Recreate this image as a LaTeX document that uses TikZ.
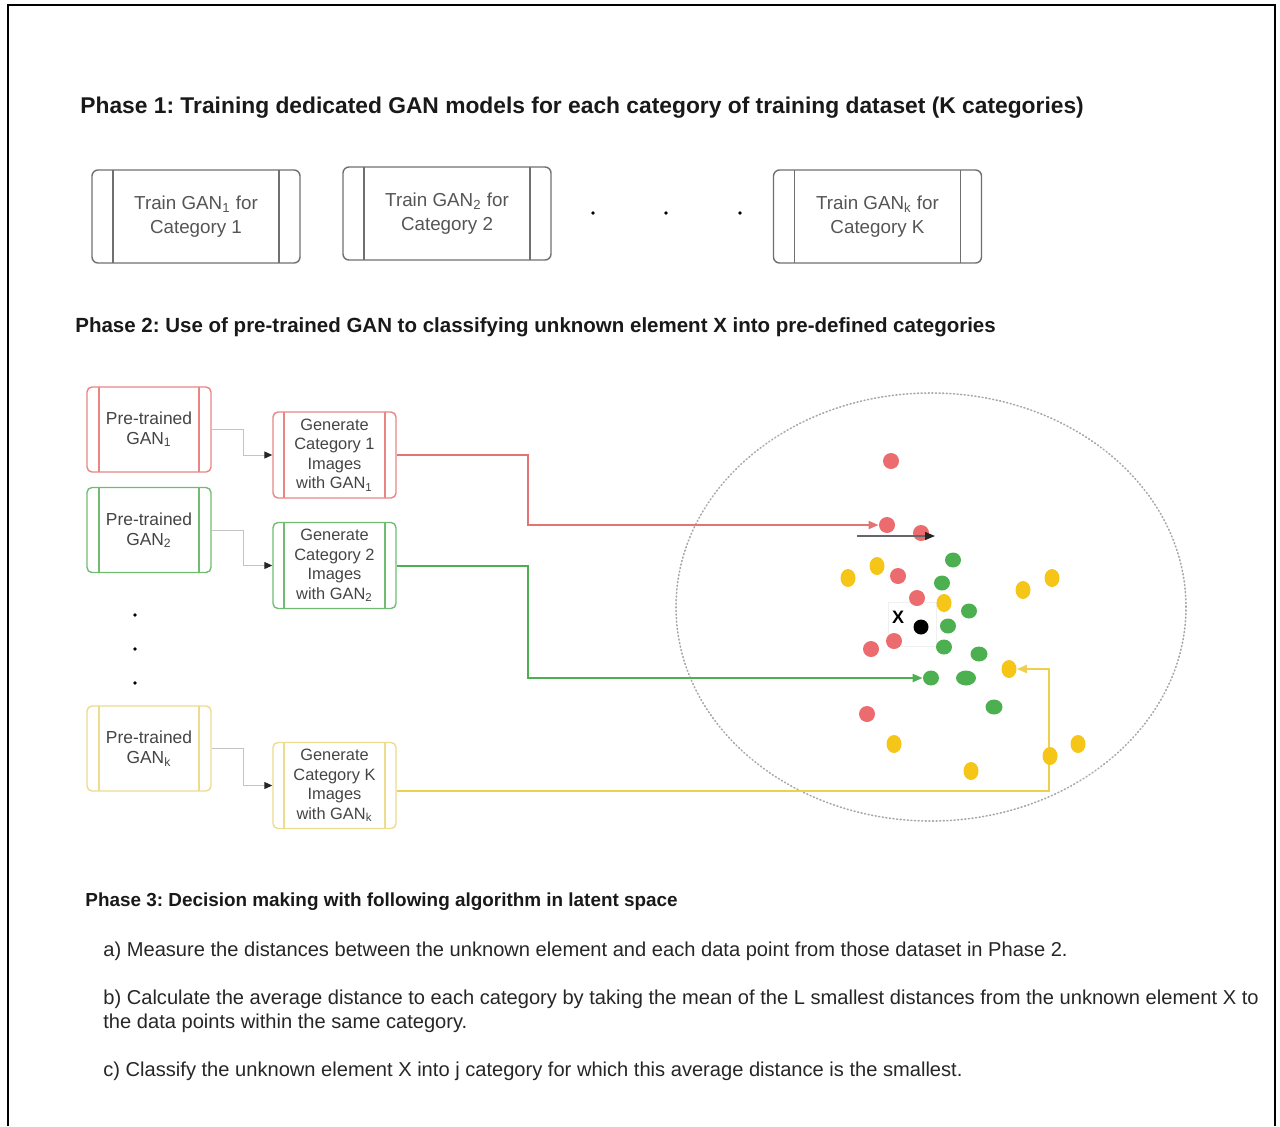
\documentclass[tikz,border=0pt]{standalone}
\usepackage{fontspec}
\setmainfont{Liberation Sans}
\usetikzlibrary{arrows.meta,shapes.geometric,calc}
\frenchspacing
\definecolor{boxgray}{HTML}{707070}
\definecolor{txtgray}{HTML}{555555}
\definecolor{txtdark}{HTML}{444444}
\definecolor{redb}{HTML}{E88585}
\definecolor{greenb}{HTML}{70BD72}
\definecolor{yellowb}{HTML}{EDDC8E}
\definecolor{redl}{HTML}{E57373}
\definecolor{greenl}{HTML}{4CAF50}
\definecolor{yellowl}{HTML}{F0CF4E}
\definecolor{redd}{HTML}{EC6B6E}
\definecolor{greend}{HTML}{4CB050}
\definecolor{yellowd}{HTML}{F5C518}
\definecolor{conn}{HTML}{C4C4C4}
\definecolor{ringgray}{HTML}{A8A8A8}
\begin{document}
\begin{tikzpicture}[x=0.5pt,y=-0.5pt,
  inner lines/.style 2 args={path picture={
    \draw[#1,line width=0.7pt] ([xshift=#2]path picture bounding box.north west) -- ([xshift=#2]path picture bounding box.south west);
    \draw[#1,line width=0.7pt] ([xshift=-#2]path picture bounding box.north east) -- ([xshift=-#2]path picture bounding box.south east);}},
  bigbox/.style={draw=boxgray, rounded corners=3pt, line width=0.7pt, minimum width=104pt, minimum height=46.5pt, align=center, inner sep=0pt, font=\fontsize{9.4}{12}\selectfont, text=txtgray, inner lines={boxgray}{10.5pt}},
  prebox/.style={draw=#1, rounded corners=2.5pt, line width=0.7pt, minimum width=62pt, minimum height=42.5pt, align=center, inner sep=0pt, font=\fontsize{8.7}{10}\selectfont, text=txtdark, inner lines={#1}{6pt}},
  genbox/.style={draw=#1, rounded corners=2.5pt, line width=0.7pt, minimum width=61.5pt, minimum height=43pt, align=center, inner sep=0pt, font=\fontsize{8.2}{9.75}\selectfont, text=txtdark, inner lines={#1}{5.5pt}},
  title/.style={anchor=base west, inner sep=0pt, text=black!90},
  item/.style={anchor=base west, inner sep=0pt, font=\fontsize{10.05}{12}\selectfont, text=black!85},
  smalldot/.style={circle, fill=black, inner sep=0pt, minimum size=1.8pt},
  rdot/.style={circle, fill=redd, inner sep=0pt, minimum size=8pt},
  ydot/.style={ellipse, fill=yellowd, inner sep=0pt, minimum width=7.5pt, minimum height=9pt},
  gdot/.style={ellipse, fill=greend, inner sep=0pt, minimum width=8pt, minimum height=7.5pt},
  feed/.style={draw=conn, line width=0.5pt, -{Triangle[length=4pt,width=3.5pt,fill=black!85,color=black!85]}},
  link/.style={color=#1, line width=1pt, -{Triangle[length=5pt,width=4pt]}}
]
\useasboundingbox (0,0) rectangle (1280,1126);
% outer frame
\draw[line width=1pt] (8,1126) -- (8,5) -- (1275,5) -- (1275,1126);

% Phase 1
\node[title, font=\bfseries\fontsize{11.4}{13}\selectfont] (t1) at (80,113) {Phase 1: Training dedicated GAN models for each category of training dataset (K categories)};
\node[bigbox] (tr1) at (196,216.5) {Train GAN\textsubscript{1} for\\Category 1};
\node[bigbox] (tr2) at (447,213.5) {Train GAN\textsubscript{2} for\\Category 2};
\node[bigbox] (trk) at (877.5,216.5) {Train GAN\textsubscript{k} for\\Category K};
\node[smalldot] (hd1) at (593,213) {};
\node[smalldot] (hd2) at (666,213) {};
\node[smalldot] (hd3) at (740,213) {};

% Phase 2
\node[title, font=\bfseries\fontsize{10.25}{12}\selectfont] (t2) at (75,332) {Phase 2: Use of pre-trained GAN to classifying unknown element X into pre-defined categories};
\node[prebox=redb] (pre1) at (149,429.5) {Pre-trained\\GAN\textsubscript{1}};
\node[prebox=greenb] (pre2) at (149,530) {Pre-trained\\GAN\textsubscript{2}};
\node[prebox=yellowb] (prek) at (149,748.5) {Pre-trained\\GAN\textsubscript{k}};
\node[smalldot] (vd1) at (135,615) {};
\node[smalldot] (vd2) at (135,649) {};
\node[smalldot] (vd3) at (135,683) {};
\node[genbox=redb] (gen1) at (334.5,455) {Generate\\Category 1\\Images\\with GAN\textsubscript{1}};
\node[genbox=greenb] (gen2) at (334.5,565.5) {Generate\\Category 2\\Images\\with GAN\textsubscript{2}};
\node[genbox=yellowb] (genk) at (334.5,785.5) {Generate\\Category K\\Images\\with GAN\textsubscript{k}};

\draw[feed] (pre1.east) -- ++(32,0) |- (gen1.west);
\draw[feed] (pre2.east) -- ++(32,0) |- (gen2.west);
\draw[feed] (prek.east) -- ++(32,0) |- (genk.west);

% latent space
\draw[ringgray, line width=0.8pt, dash pattern=on 0.5pt off 1.3pt, line cap=round] (931,607) ellipse [x radius=127.5pt, y radius=107pt];
\draw[black!6, line width=0.4pt] (888,602) rectangle (936,646);

\node[rdot] (rd1) at (891,461) {};
\node[rdot] (rd2) at (887,525) {};
\node[rdot] (rd3) at (921,533) {};
\node[rdot] (rd4) at (898,576) {};
\node[rdot] (rd5) at (917,598) {};
\node[rdot] (rd6) at (894,641) {};
\node[rdot] (rd7) at (871,649) {};
\node[rdot] (rd8) at (867,714) {};

\node[ydot] (yd1) at (848,578) {};
\node[ydot] (yd2) at (877,566) {};
\node[ydot] (yd3) at (944,603) {};
\node[ydot] (yd4) at (1023,590) {};
\node[ydot] (yd5) at (1052,578) {};
\node[ydot] (yd6) at (1009,669) {};
\node[ydot] (yd7) at (894,744) {};
\node[ydot] (yd8) at (971,771) {};
\node[ydot] (yd10) at (1078,744) {};

\node[gdot] (gd1) at (953,560) {};
\node[gdot] (gd2) at (942,583) {};
\node[gdot] (gd3) at (969,611) {};
\node[gdot] (gd4) at (948,626) {};
\node[gdot] (gd5) at (944,647) {};
\node[gdot, minimum width=8.5pt] (gd6) at (979,654) {};
\node[gdot] (gd7) at (931,678) {};
\node[gdot, minimum width=10pt] (gd8) at (966,678) {};
\node[gdot, minimum width=8.5pt] (gd9) at (994,707) {};

\node[circle, fill=black, inner sep=0pt, minimum size=7.5pt] (xp) at (921,627) {};
\node[inner sep=0pt, font=\bfseries\fontsize{9}{10}\selectfont] (xl) at (898,617) {X};

% connectors to latent space
\coordinate (ycorner) at (1049,720);
\draw[link=redl] (gen1.east) -- ++(131,0) |- (rd2.west);
\draw[link=greenl] (gen2.east) -- ++(131,0) |- (gd7.west);
\draw[link=yellowl] ([yshift=-2.5pt]genk.east) -| (ycorner) |- (yd6.east);
\node[ydot] (yd9) at (1050,756) {};
\coordinate (bs) at (857,536);
\coordinate (be) at (935,536);
\draw[draw=black!60, line width=0.7pt, -{Triangle[length=5pt,width=4pt,fill=black!85,color=black!85]}] (bs) -- (be);

% Phase 3
\node[title, font=\bfseries\fontsize{9.45}{12}\selectfont] (t3) at (85,906) {Phase 3: Decision making with following algorithm in latent space};
\node[item] (ia) at (103,956) {a) Measure the distances between the unknown element and each data point from those dataset in Phase 2.};
\node[item] (ib) at (103,1004) {b) Calculate the average distance to each category by taking the mean of the L smallest distances from the unknown element X to};
\node[item] (ib2) at (103,1028) {the data points within the same category.};
\node[item] (ic) at (103,1076) {c) Classify the unknown element X into j category for which this average distance is the smallest.};
\end{tikzpicture}
\end{document}
